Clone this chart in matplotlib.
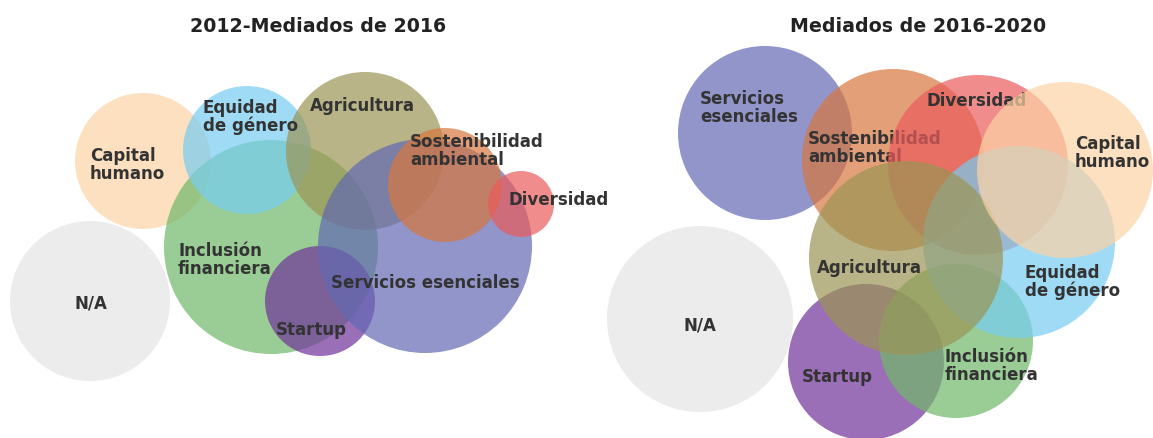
import matplotlib
matplotlib.use("Agg")
from matplotlib import pyplot as plt
from matplotlib.patches import Circle

# bubbles, in draw order (pixel space of the original picture)
left_names = ["N/A", "Capital\nhumano", "Inclusión\nfinanciera", "Equidad\nde género",
              "Agricultura", "Startup", "Servicios esenciales",
              "Sostenibilidad\nambiental", "Diversidad"]
left_x = [90, 143, 271, 247, 365, 320, 425, 445, 521]
left_y = [302, 162, 248, 151, 152, 302, 247, 186, 205]
left_r = [80, 68, 107, 64, 79, 55, 107, 57, 33]

right_names = ["N/A", "Servicios\nesenciales", "Sostenibilidad\nambiental", "Diversidad",
               "Startup", "Inclusión\nfinanciera", "Equidad\nde género",
               "Agricultura", "Capital\nhumano"]
right_x = [700, 765, 893, 978, 866, 956, 1019, 906, 1065]
right_y = [320, 134, 161, 166, 363, 342, 243, 259, 171]
right_r = [93, 87, 91, 90, 78, 77, 96, 97, 88]

colors = {
    "N/A": "#ececec",
    "Capital": "#fcd3a5",
    "Inclusión": "#70b869",
    "Equidad": "#77cdf1",
    "Agricultura": "#9b9454",
    "Startup": "#70329a",
    "Servicios": "#6269b3",
    "Sostenibilidad": "#d8773e",
    "Diversidad": "#ea5b5b",
}

# label anchors (left edge, vertical centre)
left_lab = {"N/A": (91, 304, "center"), "Capital\nhumano": (90, 165, "left"),
            "Inclusión\nfinanciera": (178, 260, "left"), "Equidad\nde género": (203, 117, "left"),
            "Agricultura": (310, 106, "left"), "Startup": (276, 330, "left"),
            "Servicios esenciales": (331, 283, "left"),
            "Sostenibilidad\nambiental": (410, 151, "left"), "Diversidad": (508, 200, "left")}
right_lab = {"N/A": (700, 326, "center"), "Servicios\nesenciales": (700, 108, "left"),
             "Sostenibilidad\nambiental": (808, 148, "left"), "Diversidad": (927, 101, "left"),
             "Startup": (802, 377, "left"), "Inclusión\nfinanciera": (945, 366, "left"),
             "Equidad\nde género": (1025, 282, "left"), "Agricultura": (817, 268, "left"),
             "Capital\nhumano": (1075, 153, "left")}

TXT = "#333333"
FONT = ["DejaVu Sans"]


def color_for(name):
    return colors[name.split("\n")[0].split(" ")[0]]


def draw_panel(ax, names, xs, ys, rs, labels, labels_interleaved):
    z = 1
    for name, x, y, r in zip(names, xs, ys, rs):
        alpha = 1.0 if name == "N/A" else 0.7
        ax.add_patch(Circle((x, y), r, facecolor=color_for(name), alpha=alpha,
                            edgecolor="none", zorder=z))
        lx, ly, ha = labels[name]
        tz = z + 0.5 if labels_interleaved else 100
        ax.text(lx, ly, name, ha=ha, va="center", fontsize=12, fontweight="bold",
                color=TXT, family=FONT, linespacing=0.93, zorder=tz)
        z += 1


fig = plt.figure(figsize=(11.53, 4.39), dpi=100)
ax = fig.add_axes([0, 0, 1, 1])
ax.set_xlim(0, 1153)
ax.set_ylim(439, 0)
ax.set_aspect("equal")
ax.axis("off")

draw_panel(ax, left_names, left_x, left_y, left_r, left_lab, False)
draw_panel(ax, right_names, right_x, right_y, right_r, right_lab, True)

ax.text(318, 27, "2012-Mediados de 2016", ha="center", va="center", fontsize=13.7,
        fontweight="bold", color="#222222", family=FONT)
ax.text(918, 27, "Mediados de 2016-2020", ha="center", va="center", fontsize=13.7,
        fontweight="bold", color="#222222", family=FONT)

fig.savefig("out.png", dpi=100)
